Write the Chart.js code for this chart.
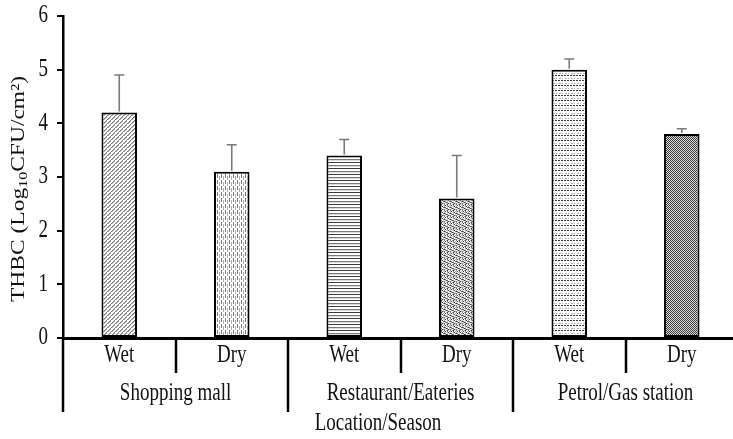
<!DOCTYPE html>
<html>
<head>
<meta charset="utf-8">
<script src="https://cdn.jsdelivr.net/npm/chart.js@4.4.1/dist/chart.umd.min.js"></script>
<style>
  html, body { margin: 0; padding: 0; background: #fff; overflow: hidden; }
  #wrap { width: 738px; height: 439px; }
</style>
</head>
<body>
<div id="wrap"><canvas id="c" width="738" height="439"></canvas></div>
<script>
// ---- data ----
const seasons = ['Wet', 'Dry', 'Wet', 'Dry', 'Wet', 'Dry'];
const locations = ['Shopping mall', 'Restaurant/Eateries', 'Petrol/Gas station'];
const thbcMeans = [4.2, 3.1, 3.4, 2.6, 5.0, 3.8];
const thbcErrors = [0.7, 0.5, 0.3, 0.8, 0.2, 0.1];
const yTickValues = [0, 1, 2, 3, 4, 5, 6];
const xAxisTitle = 'Location/Season';
const yTitleParts = ['THBC (Log', '10', 'CFU/cm²)'];

// ---- patterns ----
function makePattern(w, h, draw) {
  const c = document.createElement('canvas');
  c.width = w; c.height = h;
  const g = c.getContext('2d');
  g.fillStyle = '#fff'; g.fillRect(0, 0, w, h);
  draw(g);
  return document.getElementById('c').getContext('2d').createPattern(c, 'repeat');
}
function px(g, x, y, col) { g.fillStyle = col; g.fillRect(x, y, 1, 1); }
function grid(g, rows) {
  rows.forEach((r, y) => r.split('').forEach((ch, x) => {
    const col = { '#': '#3c3c3c', '+': '#7a7a7a', '-': '#b0b0b0', '.': '#dcdcdc', ' ': '#ffffff' }[ch];
    px(g, x, y, col);
  }));
}

const patterns = [
  makePattern(4, 4, g => grid(g, [
    '  + ',
    ' +- ',
    '+-  ',
    '-  +'])),
  makePattern(4, 6, g => grid(g, [
    ' +  ',
    ' +  ',
    ' + -',
    ' + -',
    '   -',
    '   -'])),
  makePattern(1, 6, g => grid(g, ['#', ' ', ' ', '+', '.', ' '])),
  makePattern(6, 6, g => grid(g, [
    '+ -#. ',
    '.# + -',
    '- .-# ',
    '#+ . +',
    ' -#+ .',
    '+. -#-'])),
  makePattern(6, 5, g => grid(g, [
    '## ## ',
    '      ',
    '      ',
    ' -- - ',
    '      '])),
  makePattern(2, 2, g => grid(g, ['#.', '.#']))
];

const FONT = '"Liberation Serif", "Times New Roman", serif';
const FS = 19;
const STRETCH = 1.3;

function stretchedText(ctx, text, x, y, size, k, align) {
  ctx.save();
  ctx.translate(x, y);
  ctx.scale(1, k);
  ctx.font = size + 'px ' + FONT;
  ctx.fillStyle = '#111';
  ctx.textAlign = align || 'center';
  ctx.textBaseline = 'middle';
  ctx.fillText(text, 0, 0);
  ctx.restore();
}

const decor = {
  id: 'decor',
  afterDatasetsDraw(chart) {
    const ctx = chart.ctx;
    const xs = chart.scales.x, ys = chart.scales.y;
    ctx.save();
    ctx.strokeStyle = '#7a7a7a';
    ctx.lineWidth = 1.6;
    thbcMeans.forEach((v, i) => {
      const x = xs.getPixelForValue(i);
      const y0 = ys.getPixelForValue(v);
      const y1 = ys.getPixelForValue(v + thbcErrors[i]);
      ctx.beginPath();
      ctx.moveTo(x, y0 - 1); ctx.lineTo(x, y1);
      ctx.moveTo(x - 5, y1); ctx.lineTo(x + 5, y1);
      ctx.stroke();
    });
    ctx.restore();
  },
  afterDraw(chart) {
    const ctx = chart.ctx;
    const xs = chart.scales.x, ys = chart.scales.y;
    const a = chart.chartArea;
    const catW = (a.right - a.left) / seasons.length;
    ctx.save();
    ctx.strokeStyle = '#000';
    ctx.lineWidth = 2.5;
    for (let k = 0; k <= seasons.length; k++) {
      const x = Math.round(a.left + k * catW);
      const long = k % 2 === 0;
      ctx.beginPath();
      ctx.moveTo(x, a.bottom);
      ctx.lineTo(x, long ? 412 : 373);
      ctx.stroke();
    }
    ctx.restore();
    seasons.forEach((s, i) => stretchedText(ctx, s, xs.getPixelForValue(i), 356, FS, STRETCH));
    locations.forEach((l, g) => stretchedText(ctx, l, a.left + (2 * g + 1) * catW, 394, FS, STRETCH));
    stretchedText(ctx, xAxisTitle, 378, 424, FS, STRETCH);
    yTickValues.forEach(v => stretchedText(ctx, String(v), 48, ys.getPixelForValue(v), FS, STRETCH, 'right'));
    ctx.save();
    ctx.font = FS + 'px ' + FONT;
    const w0 = ctx.measureText(yTitleParts[0]).width;
    ctx.font = (FS * 0.68) + 'px ' + FONT;
    const w1 = ctx.measureText(yTitleParts[1]).width;
    ctx.font = FS + 'px ' + FONT;
    const w2 = ctx.measureText(yTitleParts[2]).width;
    const W = w0 + w1 + w2;
    const k = 226 / W;
    ctx.translate(19, 189);
    ctx.rotate(-Math.PI / 2);
    ctx.scale(k, 1);
    ctx.fillStyle = '#111';
    ctx.textBaseline = 'middle';
    ctx.textAlign = 'left';
    let x = -W / 2;
    ctx.font = FS + 'px ' + FONT;
    ctx.fillText(yTitleParts[0], x, 0); x += w0;
    ctx.font = (FS * 0.68) + 'px ' + FONT;
    ctx.fillText(yTitleParts[1], x, 5); x += w1;
    ctx.font = FS + 'px ' + FONT;
    ctx.fillText(yTitleParts[2], x, 0);
    ctx.restore();
  }
};

new Chart(document.getElementById('c'), {
  type: 'bar',
  data: {
    labels: seasons,
    datasets: [{
      data: thbcMeans,
      backgroundColor: patterns,
      borderColor: '#000',
      borderWidth: 2,
      borderSkipped: false,
      categoryPercentage: 1.0,
      barPercentage: 0.316
    }]
  },
  options: {
    responsive: false,
    animation: false,
    devicePixelRatio: 1,
    layout: { padding: { top: 16, left: 0, right: 0, bottom: 0 } },
    plugins: { legend: { display: false }, tooltip: { enabled: false } },
    scales: {
      x: {
        type: 'category',
        ticks: { display: false },
        grid: { display: false },
        border: { display: true, color: '#000', width: 3 },
        afterFit(s) { s.height = 439 - 338; }
      },
      y: {
        min: 0, max: 6,
        ticks: { display: false, stepSize: 1 },
        grid: { display: true, drawOnChartArea: false, drawTicks: true, tickLength: 6, color: '#000', lineWidth: 2 },
        border: { display: true, color: '#000', width: 2.5 },
        afterFit(s) { s.width = 63; }
      }
    }
  },
  plugins: [decor]
});
</script>
</body>
</html>
